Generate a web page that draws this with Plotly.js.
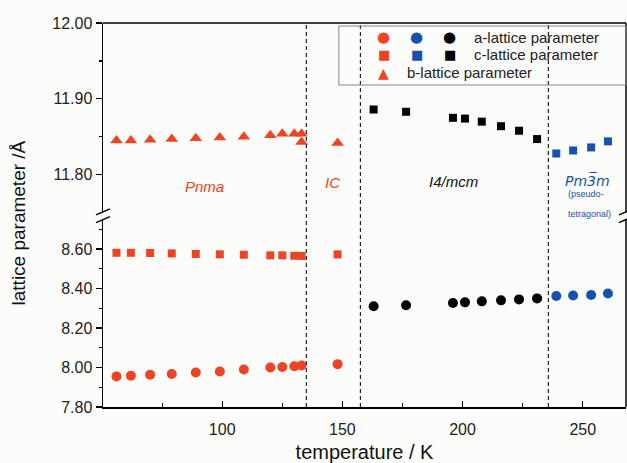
<!DOCTYPE html>
<html>
<head>
<meta charset="utf-8">
<script src="https://cdn.plot.ly/plotly-3.0.1.min.js"></script>
<style>html,body{margin:0;padding:0;background:#fcfcfa;}#chart{width:627px;height:463px;}</style>
</head>
<body>
<div id="chart"></div>
<script>
// ---- data ----
var tempPnmaIC = [56, 62, 70, 79, 89, 99, 109, 120, 125, 130, 133, 148];
var aPnmaIC    = [7.955, 7.958, 7.963, 7.967, 7.975, 7.980, 7.990, 8.000, 8.003, 8.006, 8.010, 8.017];
var cPnmaIC    = [8.581, 8.581, 8.580, 8.578, 8.575, 8.573, 8.571, 8.568, 8.568, 8.566, 8.565, 8.573];
var tempB      = [56, 62, 70, 79, 89, 99, 109, 120, 125, 130, 133, 133, 148];
var bPnmaIC    = [11.845, 11.845, 11.846, 11.847, 11.848, 11.849, 11.850, 11.852, 11.854, 11.854, 11.854, 11.843, 11.842];
var tempI4     = [163, 176.5, 196, 201, 208, 216, 223.5, 231];
var aI4        = [8.310, 8.315, 8.327, 8.330, 8.335, 8.340, 8.345, 8.350];
var cI4        = [11.886, 11.883, 11.875, 11.874, 11.870, 11.864, 11.858, 11.847];
var tempPm     = [239, 246, 253.5, 260.5];
var aPm        = [8.362, 8.365, 8.367, 8.375];
var cPm        = [11.828, 11.832, 11.836, 11.844];
var phaseBounds = [135, 157.5, 235.7];

var RED = '#ec4424', BLUE = '#1552ae', BLACK = '#000000';
var FONT = 'Liberation Sans, Arial, sans-serif';

function tr(x, y, yax, sym, col, size) {
  return {x: x, y: y, xaxis: 'x', yaxis: yax, type: 'scatter', mode: 'markers',
          marker: {symbol: sym, color: col, size: size, line: {width: 0}},
          showlegend: false, hoverinfo: 'skip', cliponaxis: false};
}

var data = [
  tr(tempPnmaIC, aPnmaIC, 'y', 'circle', RED, 10),
  tr(tempPnmaIC, cPnmaIC, 'y', 'square', RED, 8),
  tr(tempB, bPnmaIC, 'y2', 'triangle-up', RED, 11),
  tr(tempI4, aI4, 'y', 'circle', BLACK, 10),
  tr(tempI4, cI4, 'y2', 'square', BLACK, 8),
  tr(tempPm, aPm, 'y', 'circle', BLUE, 10),
  tr(tempPm, cPm, 'y2', 'square', BLUE, 8)
];

var shapes = [];
phaseBounds.forEach(function (t) {
  shapes.push({type: 'line', xref: 'x', yref: 'paper', x0: t, x1: t, y0: 0, y1: 1,
               line: {color: '#222', width: 1.2, dash: '4px,3px'}});
});
// frame (top and right)
shapes.push({type: 'line', xref: 'paper', yref: 'paper', x0: 0, x1: 1, y0: 1, y1: 1, line: {color: '#000', width: 1.5}});
shapes.push({type: 'line', xref: 'paper', yref: 'paper', x0: 1, x1: 1, y0: 0, y1: 0.488, line: {color: '#000', width: 1.5}});
shapes.push({type: 'line', xref: 'paper', yref: 'paper', x0: 1, x1: 1, y0: 0.508, y1: 1, line: {color: '#000', width: 1.5}});
// axis break marks
var PW = 523, PH = 384;
function slash(cx, cy) {
  var dx = 7 / PW, dy = 3 / PH;
  return {type: 'line', xref: 'paper', yref: 'paper', x0: cx - dx, x1: cx + dx, y0: cy - dy, y1: cy + dy,
          line: {color: '#000', width: 1.5}};
}
shapes.push(slash(0, 0.488));
shapes.push(slash(0, 0.508));
shapes.push(slash(1, 0.488));
shapes.push(slash(1, 0.508));
// legend box
shapes.push({type: 'rect', xref: 'paper', yref: 'paper', x0: 0.451, x1: 1.0, y0: 0.8385, y1: 0.992,
             line: {color: '#888', width: 1}, fillcolor: 'rgba(255,255,255,0)'});

function glyph(ch, col, x, y, sz) {
  return {xref: 'paper', yref: 'paper', x: x, y: y, text: ch, showarrow: false,
          xanchor: 'center', yanchor: 'middle', font: {family: 'DejaVu Sans', size: sz, color: col}};
}
function ltxt(t, x, y) {
  return {xref: 'paper', yref: 'paper', x: x, y: y, text: t, showarrow: false,
          xanchor: 'left', yanchor: 'middle', font: {family: FONT, size: 15, color: '#222'}};
}
var annotations = [
  glyph('●', RED, 0.537, 0.9635, 15), glyph('●', BLUE, 0.600, 0.9635, 15), glyph('●', BLACK, 0.663, 0.9635, 15),
  glyph('■', RED, 0.537, 0.9167, 13), glyph('■', BLUE, 0.600, 0.9167, 13), glyph('■', BLACK, 0.663, 0.9167, 13),
  glyph('▲', RED, 0.537, 0.8698, 14),
  ltxt('a-lattice parameter', 0.7055, 0.9635),
  ltxt('c-lattice parameter', 0.7055, 0.9167),
  ltxt('b-lattice parameter', 0.5774, 0.8698),
  {xref: 'x', yref: 'y2', x: 92.5, y: 11.784, text: '<i>Pnma</i>', showarrow: false,
   font: {family: FONT, size: 15, color: RED}},
  {xref: 'x', yref: 'y2', x: 146, y: 11.7895, text: '<i>IC</i>', showarrow: false,
   font: {family: FONT, size: 15, color: RED}},
  {xref: 'x', yref: 'y2', x: 196.3, y: 11.791, text: '<i>I4/mcm</i>', showarrow: false,
   font: {family: FONT, size: 15, color: '#111'}},
  {xref: 'x', yref: 'y2', x: 252, y: 11.793, text: '<i>Pm3\u0305m</i>', showarrow: false,
   font: {family: 'DejaVu Sans', size: 14, color: BLUE}},
  {xref: 'x', yref: 'paper', x: 251.5, y: 0.555, text: '(pseudo-', showarrow: false,
   font: {family: FONT, size: 9, color: BLUE}},
  {xref: 'x', yref: 'paper', x: 253, y: 0.503, text: 'tetragonal)', showarrow: false,
   font: {family: FONT, size: 9, color: BLUE}}
];

var layout = {
  width: 627, height: 463,
  margin: {l: 103, r: 1, t: 23, b: 56},
  paper_bgcolor: '#fcfcfa', plot_bgcolor: '#fcfcfa',
  font: {family: FONT, size: 16, color: '#222'},
  showlegend: false,
  xaxis: {range: [50.4, 268], showgrid: false, zeroline: false, showline: true, linecolor: '#000', linewidth: 1.5,
          tickmode: 'linear', tick0: 0, dtick: 50, ticks: 'inside', ticklen: 6, tickcolor: '#000', tickwidth: 1.2,
          minor: {dtick: 25, ticks: 'inside', ticklen: 4, tickcolor: '#000', tickwidth: 1.2},
          ticklabelstandoff: 7, tickfont: {size: 16, color: '#222'},
          title: {text: 'temperature / K', font: {size: 20, color: '#111'}, standoff: 10}},
  yaxis: {domain: [0, 0.488], range: [7.80, 8.749], showgrid: false, zeroline: false, showline: true,
          linecolor: '#000', linewidth: 1.5, tickmode: 'linear', tick0: 7.8, dtick: 0.2, tickformat: '.2f',
          ticks: 'outside', ticklen: 6, tickcolor: '#000', tickwidth: 1.2,
          minor: {dtick: 0.1, ticks: 'outside', ticklen: 3, tickcolor: '#000', tickwidth: 1.2},
          tickfont: {size: 16, color: '#222'}},
  yaxis2: {domain: [0.508, 1], range: [11.751, 12.0], anchor: 'x', showgrid: false, zeroline: false, showline: true,
           linecolor: '#000', linewidth: 1.5, tickmode: 'linear', tick0: 11.8, dtick: 0.1, tickformat: '.2f',
           ticks: 'outside', ticklen: 6, tickcolor: '#000', tickwidth: 1.2,
           minor: {dtick: 0.05, ticks: 'outside', ticklen: 3, tickcolor: '#000', tickwidth: 1.2},
           tickfont: {size: 16, color: '#222'}},
  shapes: shapes,
  annotations: annotations.concat([
    {xref: 'paper', yref: 'paper', x: -0.1625, y: 0.478, text: 'lattice parameter /Å', textangle: -90,
     showarrow: false, xanchor: 'center', yanchor: 'middle', font: {family: FONT, size: 19, color: '#111'}}
  ])
};

Plotly.newPlot('chart', data, layout, {staticPlot: true, displayModeBar: false});
</script>
</body>
</html>
